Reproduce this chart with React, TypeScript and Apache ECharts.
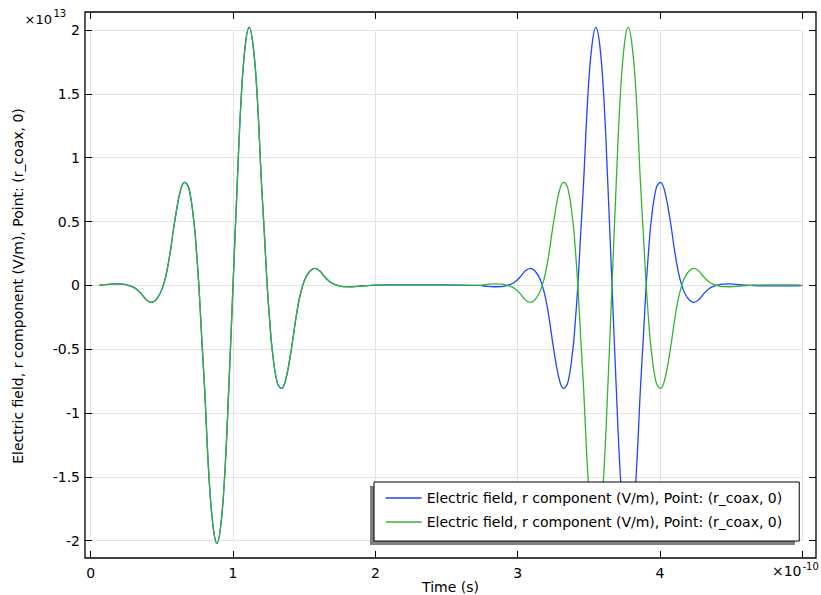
import React, { useEffect, useRef } from 'react';
import * as echarts from 'echarts';

// Time in units of 1e-10 s
const time = [
  0.06, 0.10, 0.17, 0.225, 0.265, 0.295, 0.32, 0.355, 0.39, 0.425, 0.455, 0.485, 0.51, 0.535, 0.56, 0.59, 0.63, 0.659, 0.69, 0.725,
  0.743, 0.76, 0.78, 0.80, 0.83, 0.858, 0.8865, 0.915, 0.943, 0.97, 1.0, 1.03, 1.057, 1.085, 1.1135, 1.142, 1.17, 1.20, 1.22, 1.24,
  1.257, 1.275, 1.31, 1.341, 1.37, 1.41, 1.44, 1.465, 1.49, 1.515, 1.545, 1.575, 1.61, 1.645, 1.68, 1.705, 1.735, 1.775, 1.83, 1.90,
  1.97, 2.1, 2.3, 2.5,
  2.723, 2.763, 2.833, 2.888, 2.928, 2.958, 2.983, 3.018, 3.053, 3.088, 3.118, 3.148, 3.173, 3.198, 3.223, 3.253, 3.293, 3.322, 3.353, 3.388,
  3.406, 3.423, 3.443, 3.463, 3.493, 3.521, 3.5495, 3.578, 3.606, 3.633, 3.663, 3.693, 3.72, 3.748, 3.7765, 3.805, 3.833, 3.863, 3.883, 3.903,
  3.92, 3.938, 3.973, 4.004, 4.033, 4.073, 4.103, 4.128, 4.153, 4.178, 4.208, 4.238, 4.273, 4.308, 4.343, 4.368, 4.398, 4.438, 4.493, 4.563,
  4.633, 4.763, 4.963, 5.0,
];

// Electric field, r component, units of 1e13 V/m (blue series)
const fieldBlue = [
  0, 0.005, 0.011, 0.010, 0, -0.012, -0.028, -0.065, -0.112, -0.133, -0.117, -0.07, 0, 0.11, 0.27, 0.50, 0.74, 0.807, 0.76, 0.50,
  0.27, 0, -0.41, -0.80, -1.48, -1.87, -2.02, -1.87, -1.46, -0.81, 0, 0.81, 1.46, 1.87, 2.02, 1.87, 1.48, 0.80, 0.41, 0,
  -0.27, -0.50, -0.76, -0.807, -0.74, -0.50, -0.27, -0.11, 0, 0.07, 0.117, 0.133, 0.112, 0.065, 0.028, 0.012, 0, -0.010, -0.011, -0.005,
  0, 0.004, 0.004, 0.003,
  0, -0.005, -0.011, -0.010, 0, 0.012, 0.028, 0.065, 0.112, 0.133, 0.117, 0.07, 0, -0.11, -0.27, -0.50, -0.74, -0.807, -0.76, -0.50,
  -0.27, 0, 0.41, 0.80, 1.48, 1.87, 2.02, 1.87, 1.46, 0.81, 0, -0.81, -1.46, -1.87, -2.02, -1.87, -1.48, -0.80, -0.41, 0,
  0.27, 0.50, 0.76, 0.807, 0.74, 0.50, 0.27, 0.11, 0, -0.07, -0.117, -0.133, -0.112, -0.065, -0.028, -0.012, 0, 0.010, 0.011, 0.005,
  0, -0.004, -0.004, 0,
];

// Electric field, r component, units of 1e13 V/m (green series)
const fieldGreen = [
  0, 0.005, 0.011, 0.010, 0, -0.012, -0.028, -0.065, -0.112, -0.133, -0.117, -0.07, 0, 0.11, 0.27, 0.50, 0.74, 0.807, 0.76, 0.50,
  0.27, 0, -0.41, -0.80, -1.48, -1.87, -2.02, -1.87, -1.46, -0.81, 0, 0.81, 1.46, 1.87, 2.02, 1.87, 1.48, 0.80, 0.41, 0,
  -0.27, -0.50, -0.76, -0.807, -0.74, -0.50, -0.27, -0.11, 0, 0.07, 0.117, 0.133, 0.112, 0.065, 0.028, 0.012, 0, -0.010, -0.011, -0.005,
  0, 0.004, 0.004, 0.003,
  0, 0.005, 0.011, 0.010, 0, -0.012, -0.028, -0.065, -0.112, -0.133, -0.117, -0.07, 0, 0.11, 0.27, 0.50, 0.74, 0.807, 0.76, 0.50,
  0.27, 0, -0.41, -0.80, -1.48, -1.87, -2.02, -1.87, -1.46, -0.81, 0, 0.81, 1.46, 1.87, 2.02, 1.87, 1.48, 0.80, 0.41, 0,
  -0.27, -0.50, -0.76, -0.807, -0.74, -0.50, -0.27, -0.11, 0, 0.07, 0.117, 0.133, 0.112, 0.065, 0.028, 0.012, 0, -0.010, -0.011, -0.005,
  0, 0.004, 0.004, 0,
];

const xTickValues = [0, 1, 2, 3, 4, 5];
const hiddenXTick = 5;
const LEGEND_LABEL = 'Electric field, r component (V/m), Point: (r_coax, 0)';
const seriesNames = ['Er blue', 'Er green'];
const X_TITLE = 'Time (s)';
const Y_TITLE = 'Electric field, r component (V/m), Point: (r_coax, 0)';

const FONT = 'DejaVu Sans';
const BLUE = '#1e47ff';
const GREEN = '#33b533';

export default function App() {
  const ref = useRef<HTMLDivElement>(null);

  useEffect(() => {
    if (!ref.current) return;
    const chart = echarts.init(ref.current, undefined, { renderer: 'svg' });

    const tickStyle = { show: true, inside: true, length: 7, lineStyle: { color: '#000', width: 1 } };
    const gridLine = { show: true, lineStyle: { color: '#e3e3e3', width: 1 } };
    const labelStyle = { color: '#000', fontSize: 14, fontFamily: FONT };
    const noLine = { show: false, onZero: false };

    const option: any = {
      animation: false,
      backgroundColor: '#fff',
      grid: { left: 90.7, right: 18.7, top: 30, bottom: 54.3, containLabel: false },
      xAxis: [
        {
          type: 'value', min: xTickValues[0], max: xTickValues[xTickValues.length - 1], interval: 1,
          position: 'bottom', offset: 17.3,
          axisLine: noLine,
          axisTick: tickStyle,
          axisLabel: {
            ...labelStyle, margin: 8,
            formatter: (v: number) => (v === hiddenXTick ? '' : String(v)),
          },
          splitLine: gridLine,
        },
        {
          type: 'value', min: xTickValues[0], max: xTickValues[xTickValues.length - 1], interval: 1,
          position: 'top', offset: 18,
          axisLine: noLine,
          axisTick: tickStyle,
          axisLabel: { show: false },
          splitLine: { show: false },
        },
      ],
      yAxis: [
        {
          type: 'value', min: -2, max: 2, interval: 0.5,
          position: 'left', offset: 5.7,
          axisLine: noLine,
          axisTick: tickStyle,
          axisLabel: { ...labelStyle, margin: 5 },
          splitLine: gridLine,
        },
        {
          type: 'value', min: -2, max: 2, interval: 0.5,
          position: 'right', offset: 13.7,
          axisLine: noLine,
          axisTick: tickStyle,
          axisLabel: { show: false },
          splitLine: { show: false },
        },
      ],
      legend: {
        orient: 'vertical',
        left: 374,
        top: 482,
        padding: [9, 17, 12, 11],
        itemWidth: 36,
        itemHeight: 14,
        itemGap: 10,
        backgroundColor: '#fff',
        borderColor: '#000',
        borderWidth: 1,
        selectedMode: false,
        data: seriesNames,
        formatter: () => LEGEND_LABEL,
        itemStyle: { opacity: 0 },
        lineStyle: { width: 1.3 },
        textStyle: { color: '#000', fontSize: 14, fontFamily: FONT },
        z: 6,
      },
      series: [
        {
          type: 'line', name: seriesNames[0], xAxisIndex: 0, yAxisIndex: 0,
          data: time.map((t, i) => [t, fieldBlue[i]]),
          symbol: 'none', showSymbol: false, smooth: 0.4, clip: false,
          lineStyle: { color: BLUE, width: 1.3 }, itemStyle: { color: BLUE },
          z: 2,
        },
        {
          type: 'line', name: seriesNames[1], xAxisIndex: 0, yAxisIndex: 0,
          data: time.map((t, i) => [t, fieldGreen[i]]),
          symbol: 'none', showSymbol: false, smooth: 0.4, clip: false,
          lineStyle: { color: GREEN, width: 1.3 }, itemStyle: { color: GREEN },
          z: 3,
        },
      ],
      graphic: [
        {
          type: 'rect', z: 5, silent: true,
          shape: { x: 370, y: 486, width: 425, height: 59 },
          style: { fill: '#7f7f7f' },
        },
        {
          type: 'rect', z: 10, silent: true,
          shape: { x: 85, y: 12, width: 731, height: 546 },
          style: { fill: 'none', stroke: '#000', lineWidth: 1.3 },
        },
        {
          type: 'text', z: 10, x: 52, y: 19,
          style: { text: '×10', fontSize: 13, fontFamily: FONT, fill: '#000', verticalAlign: 'middle', align: 'right' },
        },
        {
          type: 'text', z: 10, x: 53.5, y: 13,
          style: { text: '13', fontSize: 10, fontFamily: FONT, fill: '#000', verticalAlign: 'middle', align: 'left' },
        },
        {
          type: 'text', z: 10, x: 801.5, y: 571,
          style: { text: '×10', fontSize: 14, fontFamily: FONT, fill: '#000', verticalAlign: 'middle', align: 'right' },
        },
        {
          type: 'text', z: 10, x: 802.5, y: 566,
          style: { text: '-10', fontSize: 10, fontFamily: FONT, fill: '#000', verticalAlign: 'middle', align: 'left' },
        },
        {
          type: 'text', z: 10, x: 450.5, y: 587,
          style: { text: X_TITLE, fontSize: 14, fontFamily: FONT, fill: '#000', verticalAlign: 'middle', align: 'center' },
        },
        {
          type: 'text', z: 10, x: 18, y: 286, rotation: Math.PI / 2,
          style: { text: Y_TITLE, fontSize: 14, fontFamily: FONT, fill: '#000', verticalAlign: 'middle', align: 'center' },
        },
      ],
    };

    chart.setOption(option);
    return () => chart.dispose();
  }, []);

  return (
    <div
      ref={ref}
      style={{ position: 'fixed', left: 0, top: 0, width: 821, height: 595, background: '#fff' }}
    />
  );
}
